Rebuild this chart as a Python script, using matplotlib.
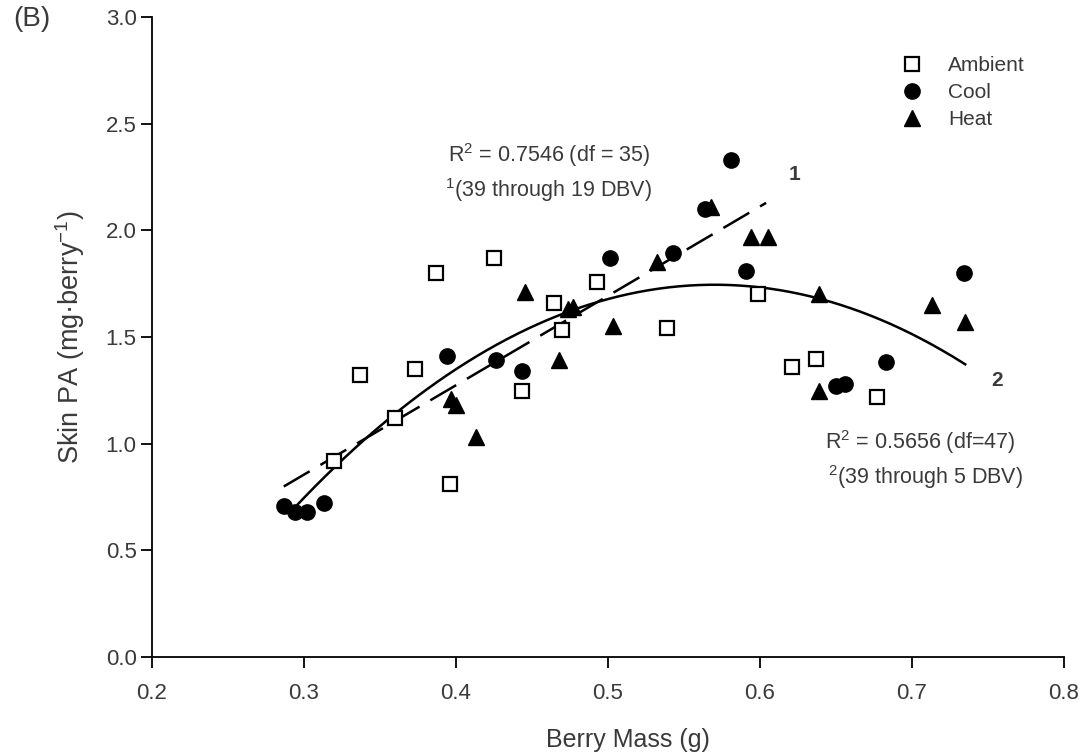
import numpy as np
import matplotlib
matplotlib.use("Agg")
import matplotlib.pyplot as plt

plt.rcParams['font.family'] = ['Liberation Sans', 'DejaVu Sans']

# ---- data ----
ambient_x = [0.3195, 0.3596, 0.337, 0.373, 0.387, 0.396, 0.425, 0.4436, 0.4646, 0.470,
             0.493, 0.539, 0.599, 0.621, 0.637, 0.677]
ambient_y = [0.92, 1.12, 1.32, 1.35, 1.80, 0.81, 1.87, 1.245, 1.66, 1.535,
             1.76, 1.54, 1.70, 1.36, 1.395, 1.22]

cool_x = [0.287, 0.294, 0.302, 0.313, 0.394, 0.4265, 0.4436, 0.501, 0.543, 0.564,
          0.581, 0.591, 0.650, 0.656, 0.683, 0.734]
cool_y = [0.71, 0.68, 0.68, 0.72, 1.41, 1.39, 1.34, 1.87, 1.895, 2.10,
          2.33, 1.81, 1.27, 1.28, 1.385, 1.80]

heat_x = [0.397, 0.400, 0.413, 0.4456, 0.468, 0.474, 0.477, 0.503, 0.532, 0.568,
          0.594, 0.605, 0.639, 0.639, 0.713, 0.735]
heat_y = [1.21, 1.18, 1.03, 1.71, 1.39, 1.63, 1.64, 1.55, 1.85, 2.11,
          1.97, 1.97, 1.70, 1.245, 1.65, 1.57]

# fitted line 1 (linear, 39 through 19 DBV)
lin_slope, lin_intercept = 4.19, -0.402
lin_range = (0.2867, 0.604)
# fitted line 2 (quadratic, 39 through 5 DBV): y = a*(x - xv)^2 + yv
quad_a, quad_xv, quad_yv = -13.7, 0.57, 1.745
quad_range = (0.294, 0.735)

x_ticks = [0.2, 0.3, 0.4, 0.5, 0.6, 0.7, 0.8]
y_ticks = [0.0, 0.5, 1.0, 1.5, 2.0, 2.5, 3.0]

TXT = '#3a3a3a'

fig = plt.figure(figsize=(10.84, 7.52), dpi=100)
ax = fig.add_axes([152/1084, 1 - 657/752, (1064-152)/1084, (657-17)/752])

ax.plot(ambient_x, ambient_y, ls='none', marker='s', ms=10.5, mfc='white', mec='black',
        mew=1.6, label='Ambient', zorder=3)
ax.plot(cool_x, cool_y, ls='none', marker='o', ms=11, mfc='black', mec='black',
        label='Cool', zorder=3)
ax.plot(heat_x, heat_y, ls='none', marker='^', ms=11, mfc='black', mec='black',
        label='Heat', zorder=3)

xl = np.linspace(lin_range[0], lin_range[1], 50)
ax.plot(xl, lin_slope * xl + lin_intercept, color='black', lw=1.8,
        dashes=(12, 5), zorder=2)
xq = np.linspace(quad_range[0], quad_range[1], 200)
ax.plot(xq, quad_a * (xq - quad_xv) ** 2 + quad_yv, color='black', lw=1.8, zorder=2)

ax.set_xlim(0.2, 0.8)
ax.set_ylim(0.0, 3.0)
ax.set_xticks(x_ticks)
ax.set_yticks(y_ticks)
ax.set_xticklabels([f'{v:.1f}' for v in x_ticks])
ax.set_yticklabels([f'{v:.1f}' for v in y_ticks])
ax.spines['top'].set_visible(False)
ax.spines['right'].set_visible(False)
for s in ('left', 'bottom'):
    ax.spines[s].set_linewidth(1.3)
ax.tick_params(direction='out', length=8, width=1.3, labelsize=16, labelcolor=TXT)
ax.tick_params(axis='x', pad=11)
ax.tick_params(axis='y', pad=3)

ax.set_xlabel('Berry Mass (g)', fontsize=18, color=TXT)
ax.xaxis.set_label_coords((628 - 152) / 912, -(740 - 657) / 640)
ax.xaxis.label.set_va('center')
ax.set_ylabel('Skin PA (mg·berry$^{\\mathregular{-1}}$)', fontsize=19.5, color=TXT)
ax.yaxis.set_label_coords(-(152 - 70) / 912, (657 - 337) / 640)
ax.yaxis.label.set_va('center')

leg = ax.legend(loc='upper left', bbox_to_anchor=(902/1084, 1 - 56/752),
                bbox_transform=fig.transFigure, frameon=False,
                fontsize=15, handlelength=1.0, handletextpad=1.2, labelspacing=0.38,
                borderpad=0, borderaxespad=0)
for t in leg.get_texts():
    t.set_color(TXT)

fig.text(13/1084, 1 - 19/752, '(B)', fontsize=20, color=TXT, va='center', ha='left')

ann = dict(xycoords='figure fraction', ha='center', va='center', color=TXT)
ax.annotate('R$^{\\mathregular{2}}$ = 0.7546 (df = 35)', xy=(549/1084, 1 - 155/752),
            fontsize=15.5, **ann)
ax.annotate('$^{\\mathregular{1}}$(39 through 19 DBV)', xy=(548/1084, 1 - 190/752),
            fontsize=15.5, **ann)
ax.annotate('1', xy=(795/1084, 1 - 174/752), fontsize=15, fontweight='bold', **ann)
ax.annotate('2', xy=(997/1084, 1 - 380/752), fontsize=15, fontweight='bold', **ann)
ax.annotate('R$^{\\mathregular{2}}$ = 0.5656 (df=47)', xy=(920/1084, 1 - 442/752),
            fontsize=15.5, **ann)
ax.annotate('$^{\\mathregular{2}}$(39 through 5 DBV)', xy=(926/1084, 1 - 477/752),
            fontsize=15.5, **ann)

fig.savefig('out.png', dpi=100)
